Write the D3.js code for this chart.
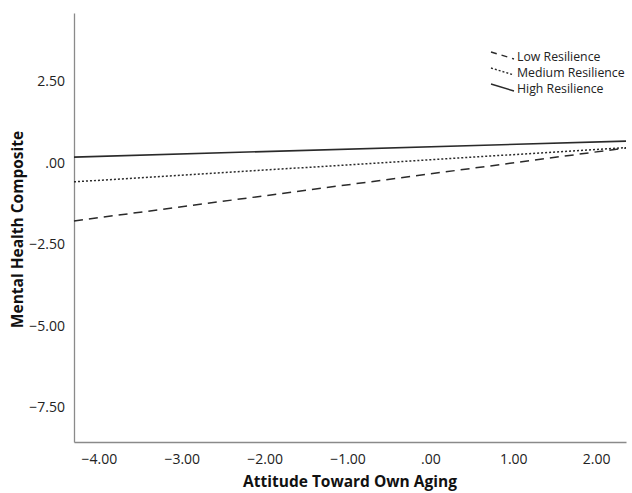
<!DOCTYPE html>
<html>
<head>
<meta charset="utf-8">
<script src="https://cdn.jsdelivr.net/npm/d3@7"></script>
<style>
  body { margin: 0; background: #fff; }
  text { font-family: "Open Sans", Lato, sans-serif; }
</style>
</head>
<body>
<svg id="graph"></svg>
<script>
// Chart data
var xRange = [-4.30, 2.36];
var seriesNames = ["Low Resilience", "Medium Resilience", "High Resilience"];
var lowValues = [-1.78, 0.46];
var mediumValues = [-0.58, 0.47];
var highValues = [0.18, 0.67];
var xTicks = [-4, -3, -2, -1, 0, 1, 2];
var yTicks = [-7.5, -5, -2.5, 0, 2.5];

var W = 632, H = 493;
var margin = {top: 13, right: 6, bottom: 51, left: 74},
    width = W - margin.left - margin.right,
    height = H - margin.top - margin.bottom;

var svg = d3.select("#graph")
  .attr("width", W)
  .attr("height", H)
  .append("g")
  .attr("transform", "translate(" + margin.left + "," + margin.top + ")");

var xScale = d3.scaleLinear().domain(xRange).range([0, width]);
var yScale = d3.scaleLinear().domain([-8.56, 4.6]).range([height, 0]);

// SPSS style labels: "-4.00", ".00"
function fmt(v) {
  var s = Math.abs(v).toFixed(2);
  if (s.charAt(0) === "0") s = s.slice(1);
  return (v < 0 ? "\u2212" : "") + s;
}

var font = "'Open Sans', Lato, sans-serif";

svg.append("g")
    .attr("transform", "translate(0," + height + ")")
    .call(d3.axisBottom(xScale).tickValues(xTicks).tickFormat(fmt).tickSize(0).tickPadding(12))
    .call(g => g.select(".domain").attr("stroke", "#8a8a8a").attr("stroke-width", 1.3))
    .call(g => g.selectAll(".tick text").attr("font-size", 14).attr("fill", "#222").style("font-family", font));

svg.append("g")
    .call(d3.axisLeft(yScale).tickValues(yTicks).tickFormat(fmt).tickSize(0).tickPadding(9))
    .call(g => g.select(".domain").attr("stroke", "#8a8a8a").attr("stroke-width", 1.3))
    .call(g => g.selectAll(".tick text").attr("font-size", 14).attr("fill", "#222").style("font-family", font));

// axis titles
svg.append("text")
    .attr("x", width / 2)
    .attr("y", height + 45)
    .attr("text-anchor", "middle")
    .attr("font-size", 15.5)
    .attr("font-weight", "bold")
    .attr("fill", "#111")
    .text("Attitude Toward Own Aging");

svg.append("text")
    .attr("transform", "translate(" + (-51) + "," + (height / 2 + 2) + ") rotate(-90)")
    .attr("text-anchor", "middle")
    .attr("font-size", 15.5)
    .attr("font-weight", "bold")
    .attr("fill", "#111")
    .text("Mental Health Composite");

var dashes = ["9,6", "2,2", null];
var seriesValues = [lowValues, mediumValues, highValues];

var line = d3.line()
    .x(d => xScale(d.x))
    .y(d => yScale(d.y));

seriesValues.forEach(function(vals, i) {
  var pts = vals.map((v, j) => ({x: xRange[j], y: v}));
  svg.append("path")
      .datum(pts)
      .attr("fill", "none")
      .attr("stroke", "#2a2a2a")
      .attr("stroke-width", i === 2 ? 1.6 : 1.5)
      .attr("stroke-dasharray", dashes[i])
      .attr("d", line);
});

// legend
var legend = svg.append("g").attr("transform", "translate(" + (490 - margin.left) + "," + (50 - margin.top) + ")");
seriesNames.forEach(function(name, i) {
  var row = legend.append("g").attr("transform", "translate(0," + (i * 16) + ")");
  row.append("line")
      .attr("x1", 1).attr("y1", 2)
      .attr("x2", 24).attr("y2", 9)
      .attr("stroke", "#2a2a2a")
      .attr("stroke-width", 1.4)
      .attr("stroke-dasharray", i === 0 ? "6,5" : dashes[i]);
  row.append("text")
      .attr("x", 27)
      .attr("y", 11)
      .attr("font-size", 12.3)
      .attr("fill", "#222")
      .text(name);
});
</script>
</body>
</html>
